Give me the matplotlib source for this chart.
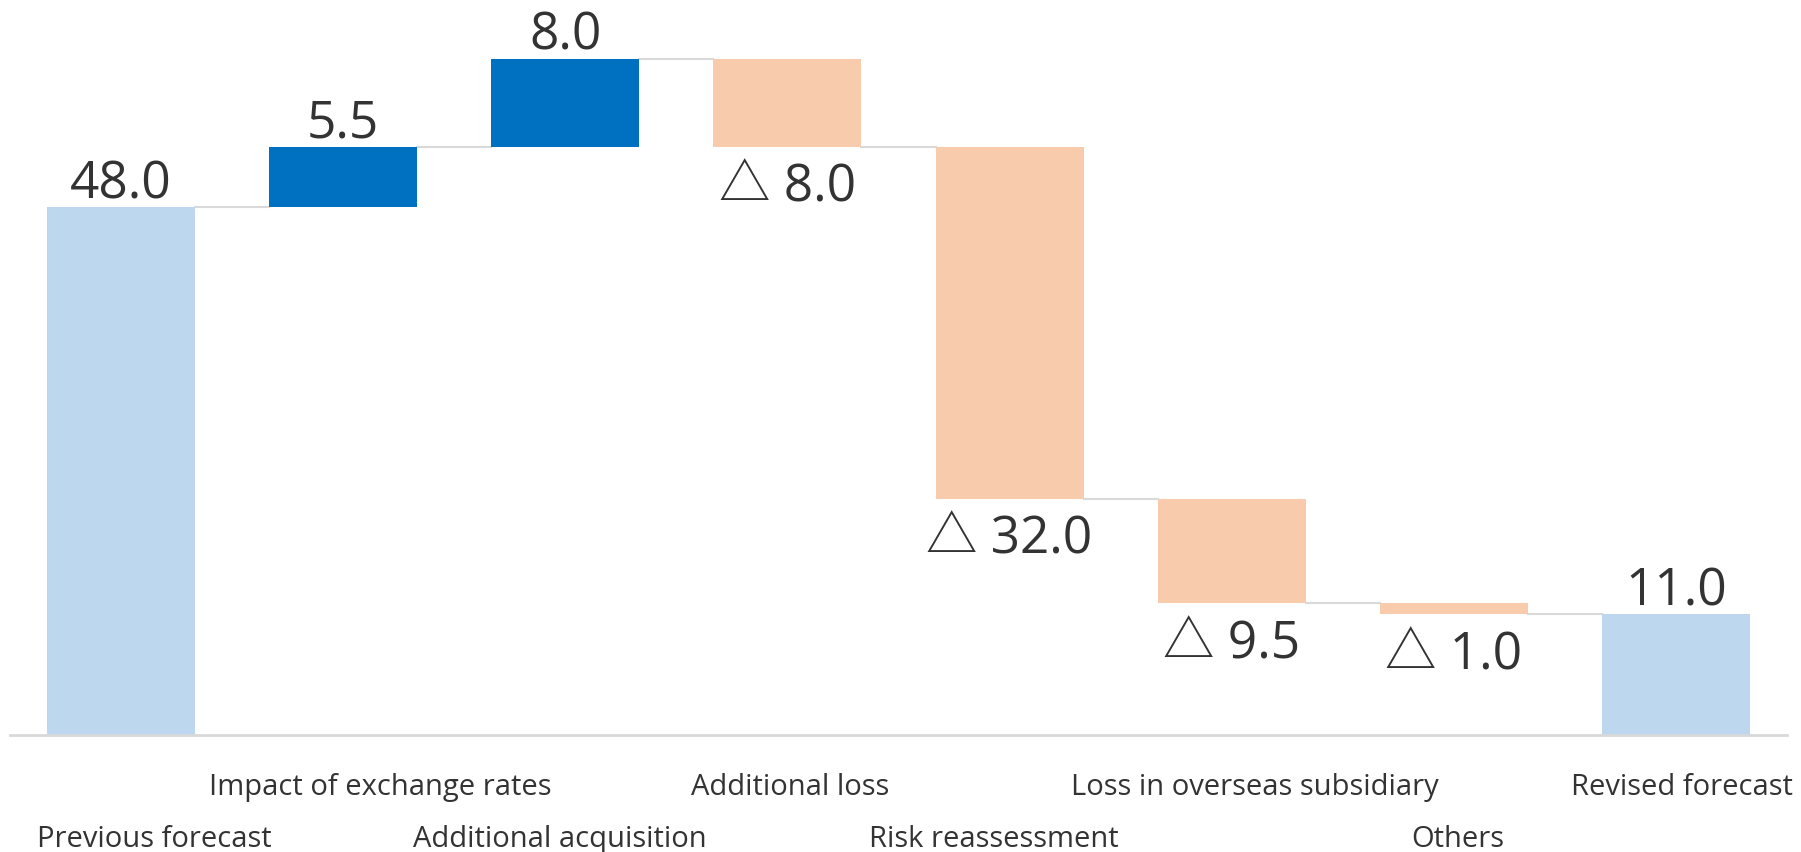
import matplotlib.pyplot as plt

# waterfall data
categories = ['Previous forecast', 'Impact of exchange rates', 'Additional acquisition',
              'Additional loss', 'Risk reassessment', 'Loss in overseas subsidiary',
              'Others', 'Revised forecast']
values = [48.0, 5.5, 8.0, -8.0, -32.0, -9.5, -1.0, 11.0]
is_total = [True, False, False, False, False, False, False, True]

c_total = '#BDD7EE'
c_up = '#0070C0'
c_down = '#F8CBAD'
c_line = '#D9D9D9'
c_text = '#333333'

plt.rcParams['font.family'] = ['Open Sans', 'Noto Sans CJK JP', 'DejaVu Sans']

fig = plt.figure(figsize=(18.01, 8.53), dpi=100)
ax = fig.add_axes([10 / 1801, 117 / 853, 1777 / 1801, 715 / 853])

width = 2 / 3
level = 0.0
tops = []
for i, v in enumerate(values):
    if is_total[i]:
        bottom, height, color = 0, v, c_total
        level = v
    else:
        bottom = level if v > 0 else level + v
        height = abs(v)
        color = c_up if v > 0 else c_down
        level += v
    ax.bar(i, height, bottom=bottom, width=width, color=color, linewidth=0)
    tops.append(level)

    if v >= 0:
        ax.annotate(f'{v:.1f}', xy=(i, bottom + height), xytext=(0, 7),
                    textcoords='offset points', ha='center', va='baseline',
                    fontsize=37, color=c_text)
    else:
        ax.annotate(f'△ {abs(v):.1f}', xy=(i, bottom), xytext=(0, -39),
                    textcoords='offset points', ha='center', va='baseline',
                    fontsize=37, color=c_text)

# connector lines
for i in range(len(values) - 1):
    ax.plot([i + width / 2, i + 1 - width / 2], [tops[i], tops[i]],
            color=c_line, linewidth=1.5, zorder=0)

# category labels in two rows (slight horizontal nudges like the original)
nudge = [24, 27, -4, 2, -11, 17, 3, 4]
for i, name in enumerate(categories):
    off = -80 if i % 2 == 0 else -42.5
    ax.annotate(name, xy=(i, 0), xytext=(nudge[i], off), textcoords='offset points',
                ha='center', va='baseline', fontsize=21, color=c_text,
                annotation_clip=False)

ax.set_xlim(-0.5, 7.5)
ax.set_ylim(0, 65)
for s in ['top', 'right', 'left']:
    ax.spines[s].set_visible(False)
ax.spines['bottom'].set_color(c_line)
ax.spines['bottom'].set_linewidth(2)
ax.set_xticks([])
ax.set_yticks([])

fig.savefig('out.png', dpi=100)
